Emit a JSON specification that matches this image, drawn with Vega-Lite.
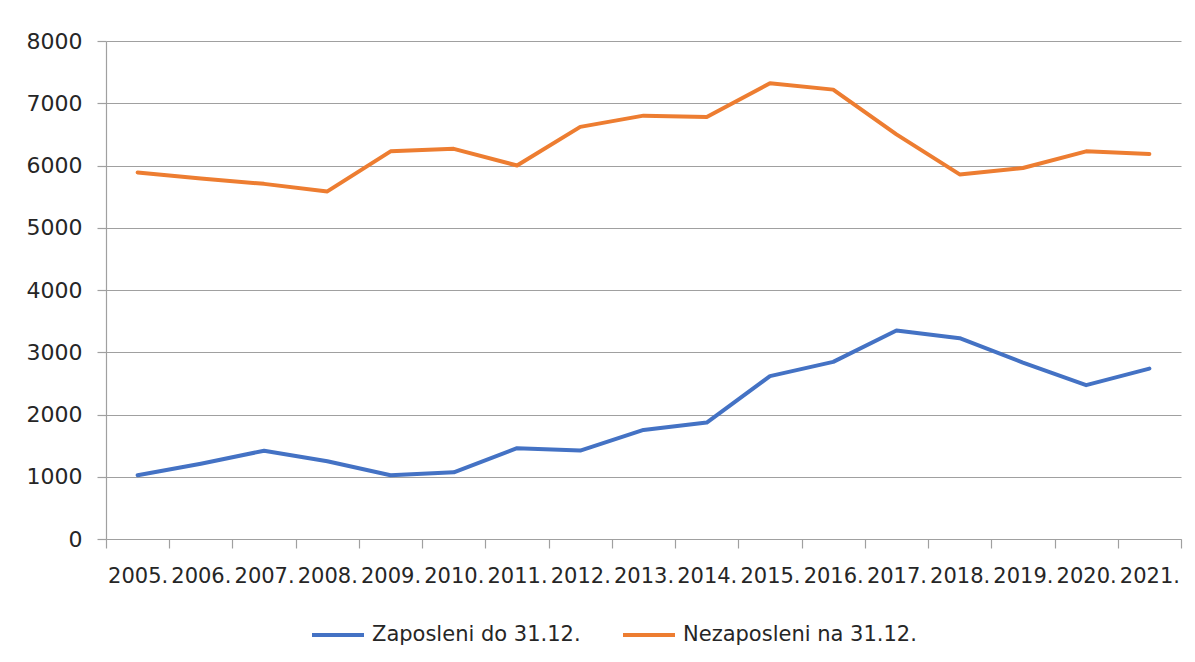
{
  "$schema": "https://vega.github.io/schema/vega-lite/v6.json",
  "autosize": {"type": "none"},
  "width": 1075,
  "height": 498,
  "padding": {"left": 106, "top": 41, "right": 14, "bottom": 123},
  "background": "white",
  "data": {
    "values": [
      {"godina": "2005.", "serija": "Zaposleni do 31.12.", "vrijednost": 1025},
      {"godina": "2006.", "serija": "Zaposleni do 31.12.", "vrijednost": 1210},
      {"godina": "2007.", "serija": "Zaposleni do 31.12.", "vrijednost": 1418},
      {"godina": "2008.", "serija": "Zaposleni do 31.12.", "vrijednost": 1250},
      {"godina": "2009.", "serija": "Zaposleni do 31.12.", "vrijednost": 1025},
      {"godina": "2010.", "serija": "Zaposleni do 31.12.", "vrijednost": 1072},
      {"godina": "2011.", "serija": "Zaposleni do 31.12.", "vrijednost": 1458},
      {"godina": "2012.", "serija": "Zaposleni do 31.12.", "vrijednost": 1420},
      {"godina": "2013.", "serija": "Zaposleni do 31.12.", "vrijednost": 1752},
      {"godina": "2014.", "serija": "Zaposleni do 31.12.", "vrijednost": 1870},
      {"godina": "2015.", "serija": "Zaposleni do 31.12.", "vrijednost": 2616},
      {"godina": "2016.", "serija": "Zaposleni do 31.12.", "vrijednost": 2846},
      {"godina": "2017.", "serija": "Zaposleni do 31.12.", "vrijednost": 3349},
      {"godina": "2018.", "serija": "Zaposleni do 31.12.", "vrijednost": 3226},
      {"godina": "2019.", "serija": "Zaposleni do 31.12.", "vrijednost": 2835},
      {"godina": "2020.", "serija": "Zaposleni do 31.12.", "vrijednost": 2471},
      {"godina": "2021.", "serija": "Zaposleni do 31.12.", "vrijednost": 2738},
      {"godina": "2005.", "serija": "Nezaposleni na 31.12.", "vrijednost": 5889},
      {"godina": "2006.", "serija": "Nezaposleni na 31.12.", "vrijednost": 5790},
      {"godina": "2007.", "serija": "Nezaposleni na 31.12.", "vrijednost": 5705},
      {"godina": "2008.", "serija": "Nezaposleni na 31.12.", "vrijednost": 5584},
      {"godina": "2009.", "serija": "Nezaposleni na 31.12.", "vrijednost": 6227},
      {"godina": "2010.", "serija": "Nezaposleni na 31.12.", "vrijednost": 6268},
      {"godina": "2011.", "serija": "Nezaposleni na 31.12.", "vrijednost": 6000},
      {"godina": "2012.", "serija": "Nezaposleni na 31.12.", "vrijednost": 6620},
      {"godina": "2013.", "serija": "Nezaposleni na 31.12.", "vrijednost": 6801},
      {"godina": "2014.", "serija": "Nezaposleni na 31.12.", "vrijednost": 6779},
      {"godina": "2015.", "serija": "Nezaposleni na 31.12.", "vrijednost": 7320},
      {"godina": "2016.", "serija": "Nezaposleni na 31.12.", "vrijednost": 7219},
      {"godina": "2017.", "serija": "Nezaposleni na 31.12.", "vrijednost": 6500},
      {"godina": "2018.", "serija": "Nezaposleni na 31.12.", "vrijednost": 5857},
      {"godina": "2019.", "serija": "Nezaposleni na 31.12.", "vrijednost": 5959},
      {"godina": "2020.", "serija": "Nezaposleni na 31.12.", "vrijednost": 6227},
      {"godina": "2021.", "serija": "Nezaposleni na 31.12.", "vrijednost": 6185}
    ]
  },
  "mark": {"type": "line", "strokeWidth": 4, "strokeCap": "round", "strokeJoin": "round"},
  "encoding": {
    "x": {
      "field": "godina",
      "type": "ordinal",
      "sort": null,
      "bandPosition": 0.5,
      "scale": {"type": "band", "paddingInner": 0, "paddingOuter": 0},
      "axis": {
        "title": null,
        "labelAngle": 0,
        "labelFont": "DejaVu Sans",
        "labelFontSize": 21,
        "labelColor": "#262626",
        "labelPadding": 17,
        "tickBand": "extent",
        "tickSize": 9,
        "tickColor": "#a0a0a0",
        "tickWidth": 1.2,
        "domainColor": "#a0a0a0",
        "domainWidth": 1.2,
        "grid": false
      }
    },
    "y": {
      "field": "vrijednost",
      "type": "quantitative",
      "scale": {"domain": [0, 8000], "nice": false},
      "axis": {
        "title": null,
        "format": "d",
        "values": [0, 1000, 2000, 3000, 4000, 5000, 6000, 7000, 8000],
        "labelFont": "DejaVu Sans",
        "labelFontSize": 22,
        "labelColor": "#262626",
        "labelPadding": 15,
        "tickSize": 9,
        "tickColor": "#a0a0a0",
        "tickWidth": 1.2,
        "domainColor": "#a0a0a0",
        "domainWidth": 1.2,
        "grid": true,
        "gridColor": "#a0a0a0",
        "gridWidth": 1.2
      }
    },
    "color": {
      "field": "serija",
      "type": "nominal",
      "scale": {
        "domain": ["Zaposleni do 31.12.", "Nezaposleni na 31.12."],
        "range": ["#4472C4", "#ED7D31"]
      },
      "legend": {
        "title": null,
        "orient": "none",
        "direction": "horizontal",
        "legendX": 204,
        "legendY": 566,
        "symbolType": "stroke",
        "symbolStrokeWidth": 4,
        "symbolSize": 2704,
        "labelFont": "DejaVu Sans",
        "labelFontSize": 21,
        "labelColor": "#262626",
        "labelOffset": 6,
        "columnPadding": 34,
        "labelLimit": 400
      }
    }
  },
  "config": {"view": {"stroke": null}}
}
